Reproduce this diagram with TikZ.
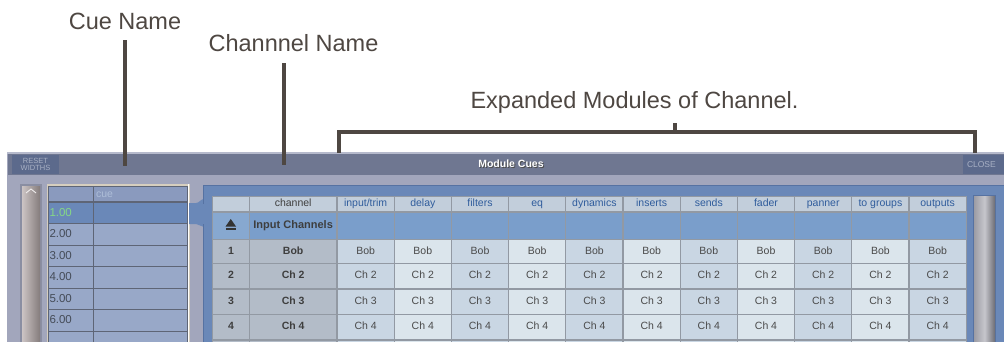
\documentclass[tikz,border=0pt]{standalone}
\usepackage{fontspec}
\setmainfont{Liberation Sans}
\definecolor{annot}{HTML}{4E4742}
\definecolor{winbg}{HTML}{A2A6BC}
\definecolor{winband}{HTML}{B6BACC}
\definecolor{titlebar}{HTML}{6F7791}
\definecolor{btnfill}{HTML}{5C6A8C}
\definecolor{btntext}{HTML}{A8B0C4}
\definecolor{panelblue}{HTML}{6A88B8}
\definecolor{paneledge}{HTML}{5672A2}
\definecolor{hdrfill}{HTML}{C2CEDB}
\definecolor{hdrtext}{HTML}{2F5C9C}
\definecolor{inputfill}{HTML}{7A9ECB}
\definecolor{idxfill}{HTML}{B3BCC8}
\definecolor{idxtext}{HTML}{3E3E3E}
\definecolor{moddark}{HTML}{C9D6E3}
\definecolor{modlight}{HTML}{DBE5EC}
\definecolor{celltext}{HTML}{4A4A4A}
\definecolor{cellline}{HTML}{9299A3}
\definecolor{cuefill}{HTML}{98A8C8}
\definecolor{cuehdr}{HTML}{8A9ABE}
\definecolor{cuesel}{HTML}{6A88B8}
\definecolor{cueline}{HTML}{5E6576}
\definecolor{cuetext}{HTML}{454C58}
\definecolor{cuegreen}{HTML}{86D886}
\definecolor{cuehdrtext}{HTML}{AEBED8}
\definecolor{cueframe}{HTML}{D6CEBE}
\definecolor{scrlA}{HTML}{CCC4C4}
\definecolor{scrlB}{HTML}{847C7C}
\definecolor{scrlframe}{HTML}{8A8EA2}
\definecolor{rscrlA}{HTML}{9C9CA4}
\definecolor{rscrlM}{HTML}{C6C6CC}
\definecolor{rscrlB}{HTML}{6C6C74}
\newcommand\uicell[7]{\node[#6, minimum width={#4pt-#2pt}, minimum height={#5pt-#3pt}] (#1) at ({(#2+#4)/2},{(#3+#5)/2}) {#7};}
\begin{document}
\begin{tikzpicture}[x=1pt,y=-1pt,
  lbl/.style={font=\fontsize{23.5}{26}\selectfont, text=annot, inner sep=0pt, anchor=base},
  annotline/.style={draw=annot, line width=3.3pt},
  cellb/.style={draw=cellline, line width=1.2pt, inner sep=0pt, outer sep=0pt, text height=7.6pt, text depth=2.2pt, font=\fontsize{10.5}{12}\selectfont},
  hdr/.style={cellb, fill=hdrfill, text=hdrtext},
  chhdr/.style={cellb, fill=hdrfill, text=idxtext},
  inrow/.style={cellb, fill=inputfill, text=idxtext, font=\bfseries\fontsize{10.5}{12}\selectfont},
  idx/.style={cellb, fill=idxfill, text=idxtext, font=\bfseries\fontsize{10.5}{12}\selectfont},
  modcell/.style={cellb, fill=\cf, text=celltext},
  cuecell/.style={draw=cueline, line width=0.8pt, fill=cuefill, inner sep=0pt, outer sep=0pt, text height=8.3pt, text depth=1pt, font=\fontsize{11.5}{13}\selectfont, text=cuetext},
  btn/.style={fill=btnfill, inner sep=0pt, text=btntext, font=\fontsize{7.5}{6.5}\selectfont, align=center},
]
\useasboundingbox (0,0) rectangle (1004,342);
\clip (0,0) rectangle (1004,342);
\fill[white] (0,0) rectangle (1004,342);

% ---- window ----
\uicell{win}{7}{152}{1012}{360}{fill=winbg, inner sep=0pt}{}
\fill[winband] (7,152) rectangle (1012,154.5);
\uicell{title}{8}{154.5}{1012}{175}{fill=titlebar, inner sep=0pt}{}
\node[text=black!70, font=\bfseries\fontsize{10.5}{12}\selectfont] at (512,165) {Module Cues};
\node[text=white, font=\bfseries\fontsize{10.5}{12}\selectfont] (ttl) at (511,164) {Module Cues};
\uicell{reset}{12}{155}{59}{174}{btn}{RESET\\WIDTHS}
\uicell{close}{963}{155}{1012}{174}{btn, font=\fontsize{8.5}{9}\selectfont, text width=41pt, align=left, inner xsep=4pt}{CLOSE}

% ---- left scrollbar ----
\fill[scrlframe] (20,184) rectangle (41.5,350);
\shade[left color=scrlA, right color=scrlB] (22,186) rectangle (40,350);
\draw[white!80!scrlA, line width=0.8pt] (26,193) -- (31,189) -- (36,193);

% ---- cue list ----
\fill[cueframe] (46.5,183.5) rectangle (189.5,350);
\uicell{cueh0}{48}{186}{93}{201.5}{cuecell, fill=cuehdr}{}
\uicell{cueh1}{93}{186}{187}{201.5}{cuecell, fill=cuehdr, text=cuehdrtext, font=\fontsize{10.5}{12}\selectfont, text width=88pt, align=left, inner xsep=3pt}{cue}
\fill[cuesel] (186,203) -- (196,203) to[out=0,in=180] (204,199) -- (204,227) to[out=180,in=0] (196,224) -- (186,224) -- cycle;
\foreach \ya/\yb/\cn [count=\k] in {202/223.5/1.00,223.5/245/2.00,245/266.5/3.00,266.5/288/4.00,288/309.5/5.00,309.5/331/6.00,331/352.5/}{
  \ifnum\k=1 \def\cuef{cuesel}\def\cuet{cuegreen}\else\def\cuef{cuefill}\def\cuet{cuetext}\fi
  \uicell{cuen\k}{48}{\ya}{93}{\yb}{cuecell, fill=\cuef, text=\cuet, text width=42pt, align=left, inner xsep=1.5pt}{\cn}
  \uicell{cuec\k}{93}{\ya}{187}{\yb}{cuecell, fill=\cuef}{}
}
\draw[white, line width=1pt] (188.5,184) -- (188.5,350);

% ---- module panel ----
\uicell{panel}{203.5}{185}{1012}{360}{fill=panelblue, draw=paneledge, line width=1pt, inner sep=0pt}{}
\fill[cuesel] (200,203.5) rectangle (205,223.5);

% header row
\uicell{h0}{212.7}{196.5}{249.3}{212}{hdr}{}
\uicell{h1}{249.3}{196.5}{337}{212}{chhdr}{channel}
\foreach \m [count=\j from 0] in {{input/trim},delay,filters,eq,dynamics,inserts,sends,fader,panner,{to groups},outputs}{
  \pgfmathsetmacro\xa{337+57.2*\j}\pgfmathsetmacro\xb{\xa+57.2}
  \uicell{hm\j}{\xa}{196.5}{\xb}{212}{hdr}{\m}
  \uicell{in\j}{\xa}{212}{\xb}{239.5}{inrow}{}
}
% input channels row
\uicell{in00}{212.7}{212}{249.3}{239.5}{inrow, fill=inputfill!90!white}{}
\uicell{inch}{249.3}{212}{337}{239.5}{inrow, font=\bfseries\fontsize{11}{12}\selectfont}{Input Channels}
\fill[black!80] (225.5,226.5) -- (236,226.5) -- (230.75,219) -- cycle;
\fill[black!80] (225.5,227.5) rectangle (236,229.5);

% channel rows
\foreach \ya/\yb/\rn/\nm in {239.5/263.5/1/Bob,263.5/289/2/Ch 2,289/314.5/3/Ch 3,314.5/340/4/Ch 4,340/365/5/}{
  \ifnum\rn=5 \def\rl{}\else\def\rl{\rn}\fi
  \uicell{idx\rn}{212.7}{\ya}{249.3}{\yb}{idx}{\rl}
  \uicell{chn\rn}{249.3}{\ya}{337}{\yb}{idx}{\nm}
  \foreach \i in {0,...,10}{
    \pgfmathsetmacro\xa{337+57.2*\i}\pgfmathsetmacro\xb{\xa+57.2}
    \pgfmathtruncatemacro\odd{mod(\i,2)}
    \ifnum\odd=0 \def\cf{moddark}\else\def\cf{modlight}\fi
    \uicell{m\rn-\i}{\xa}{\ya}{\xb}{\yb}{modcell}{\nm}
  }
}

% ---- right scrollbar ----
\fill[paneledge] (972.5,195) rectangle (996,350);
\shade[left color=rscrlA, right color=rscrlB, middle color=rscrlM] (974,196.5) rectangle (995,350);

% ---- annotations ----
\node[lbl] (cuelbl) at (125,30) {Cue Name};
\coordinate (cueend) at (125,166);
\draw[annotline, shorten <=10pt] (cuelbl.south) -- (cueend);

\node[lbl] (chlbl) at (293.5,52) {Channnel Name};
\coordinate (chend) at (284,165);
\draw[annotline, shorten <=11pt] (chlbl.south -| chend) -- (chend);

\node[lbl] (explbl) at (634.5,109) {Expanded Modules of Channel.};
\coordinate (bl) at (339,153);
\coordinate (bm) at (675,132);
\coordinate (br) at (975,153);
\draw[annotline] (bl) |- (bm) -| (br);
\draw[annotline, shorten <=9pt] (explbl.south -| bm) -- (bm);
\end{tikzpicture}
\end{document}
